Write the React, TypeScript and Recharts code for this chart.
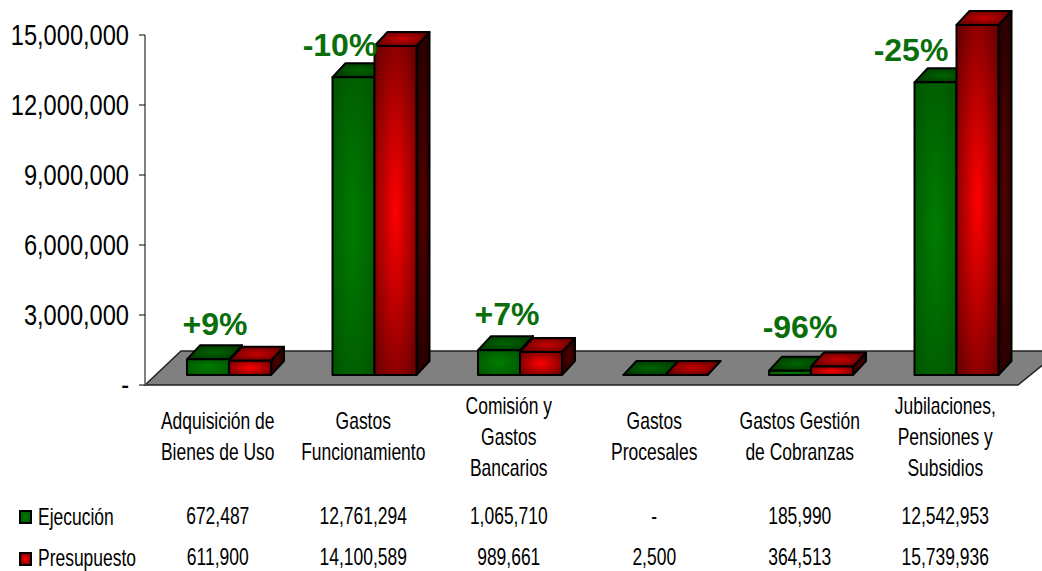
import { Bar, BarChart, Customized, LabelList, XAxis, YAxis } from "recharts";

const categoryLines = [
  ["Adquisición de", "Bienes de Uso"],
  ["Gastos", "Funcionamiento"],
  ["Comisión y", "Gastos", "Bancarios"],
  ["Gastos", "Procesales"],
  ["Gastos Gestión", "de Cobranzas"],
  ["Jubilaciones,", "Pensiones y", "Subsidios"],
];
const ejecucion = [672487, 12761294, 1065710, 0, 185990, 12542953];
const presupuesto = [611900, 14100589, 989661, 2500, 364513, 15739936];
const percentLabels = ["+9%", "-10%", "+7%", "", "-96%", "-25%"];
const yTicks = [0, 3000000, 6000000, 9000000, 12000000, 15000000];

// axis tops out at 15M, the last red bar gets cut there
const AXIS_MAX = 15000000;

const data = categoryLines.map((lines, i) => ({
  name: lines.join(" "),
  ejecucion: ejecucion[i],
  presupuesto: presupuesto[i],
}));

const PLOT_LEFT = 145;
const PLOT_TOP = 35;
const PLOT_BOTTOM = 385;
const FLOOR_BACK = 351;
const SHIFT_X = 11;
const SHIFT_Y = 10;
const DEPTH_X = 13;
const DEPTH_Y = 14;
const ROW_Y = [524, 565];
const NOTE_POS = [
  [215, 335],
  [340, 56],
  [507, 325],
  [0, 0],
  [800, 338],
  [911, 61],
];

const TABLE_SIZE = 23;
const TABLE_SX = 0.76;

const fmt = (v: number) => (v === 0 ? "-" : v.toLocaleString("en-US"));

function NarrowText({ x, y, size, sx, anchor = "middle", children }: any) {
  return (
    <text
      transform={`translate(${x},${y}) scale(${sx},1)`}
      textAnchor={anchor}
      fontFamily="Liberation Sans, Arial, sans-serif"
      fontSize={size}
      fill="#000"
    >
      {children}
    </text>
  );
}

function YTick({ y, payload }: any) {
  return (
    <NarrowText x={129} y={y + 10} size={29} sx={0.815} anchor="end">
      {fmt(payload.value)}
    </NarrowText>
  );
}

function TableTick({ x, index }: any) {
  const lines = categoryLines[index];
  const startY = lines.length === 3 ? 414 : 429;
  return (
    <g>
      {lines.map((line, i) => (
        <NarrowText key={line} x={x} y={startY + i * 31} size={TABLE_SIZE} sx={TABLE_SX}>
          {line}
        </NarrowText>
      ))}
      <NarrowText x={x} y={ROW_Y[0]} size={TABLE_SIZE} sx={TABLE_SX}>
        {fmt(ejecucion[index])}
      </NarrowText>
      <NarrowText x={x} y={ROW_Y[1]} size={TABLE_SIZE} sx={TABLE_SX}>
        {fmt(presupuesto[index])}
      </NarrowText>
    </g>
  );
}

function Floor() {
  const pts = [
    [PLOT_LEFT, PLOT_BOTTOM],
    [PLOT_LEFT + 36, FLOOR_BACK],
    [1060, FLOOR_BACK],
    [1018, PLOT_BOTTOM],
  ];
  return (
    <g>
      <polygon points={pts.map((p) => p.join(",")).join(" ")} fill="#808080" stroke="#222" strokeWidth={1.5} />
      <line x1={PLOT_LEFT} y1={PLOT_TOP} x2={PLOT_LEFT} y2={PLOT_BOTTOM} stroke="#808080" strokeWidth={2} />
      {yTicks.map((t) => {
        const ty = PLOT_BOTTOM - (t / AXIS_MAX) * (PLOT_BOTTOM - PLOT_TOP);
        return <line key={t} x1={PLOT_LEFT - 6} y1={ty} x2={PLOT_LEFT} y2={ty} stroke="#000" strokeWidth={1} />;
      })}
      <rect x={20} y={511} width={11} height={12} fill="url(#greenFront)" stroke="#000" strokeWidth={2} />
      <rect x={20} y={553} width={11} height={12} fill="url(#redFront)" stroke="#000" strokeWidth={2} />
      <NarrowText x={38} y={ROW_Y[0] + 1} size={TABLE_SIZE} sx={TABLE_SX} anchor="start">
        Ejecución
      </NarrowText>
      <NarrowText x={38} y={ROW_Y[1] + 1} size={TABLE_SIZE} sx={TABLE_SX} anchor="start">
        Presupuesto
      </NarrowText>
    </g>
  );
}

const makeBox = (color: string) => (props: any) => {
  const { x, y, width, height } = props;
  const x0 = x + SHIFT_X;
  const x1 = x0 + width;
  const yt = y - SHIFT_Y;
  const yb = y + height - SHIFT_Y;
  const poly = (pts: number[][], fill: string) => (
    <polygon
      points={pts.map((p) => p.join(",")).join(" ")}
      fill={fill}
      stroke="#000"
      strokeWidth={2}
      strokeLinejoin="round"
    />
  );
  return (
    <g>
      {poly(
        [
          [x1, yt],
          [x1 + DEPTH_X, yt - DEPTH_Y],
          [x1 + DEPTH_X, yb - DEPTH_Y],
          [x1, yb],
        ],
        `url(#${color}Side)`
      )}
      {poly(
        [
          [x0, yt],
          [x0 + DEPTH_X, yt - DEPTH_Y],
          [x1 + DEPTH_X, yt - DEPTH_Y],
          [x1, yt],
        ],
        `url(#${color}Top)`
      )}
      {poly(
        [
          [x0, yt],
          [x1, yt],
          [x1, yb],
          [x0, yb],
        ],
        `url(#${color}Front)`
      )}
    </g>
  );
};

function PercentNote({ index }: any) {
  const text = percentLabels[index];
  if (!text) return null;
  const [nx, ny] = NOTE_POS[index];
  return (
    <text
      x={nx}
      y={ny}
      textAnchor="middle"
      fontFamily="Liberation Sans, Arial, sans-serif"
      fontWeight="bold"
      fontSize={32}
      fill="#0a6e0a"
    >
      {text}
    </text>
  );
}

function Glow({ id, center, edge }: { id: string; center: string; edge: string }) {
  return (
    <radialGradient id={id} cx="50%" cy="50%" r="62%">
      <stop offset="0%" stopColor={center} />
      <stop offset="100%" stopColor={edge} />
    </radialGradient>
  );
}

export default function App() {
  return (
    <div style={{ position: "absolute", left: 0, top: 0, width: 1042, height: 571, overflow: "hidden", background: "#fff" }}>
      <BarChart
        width={1042}
        height={571}
        data={data}
        barSize={42}
        barGap={0}
        margin={{ top: PLOT_TOP, right: 24, bottom: 0, left: 0 }}
      >
        <defs>
          <Glow id="greenFront" center="#007c00" edge="#005800" />
          <Glow id="greenTop" center="#006400" edge="#003600" />
          <Glow id="greenSide" center="#005000" edge="#002000" />
          <Glow id="redFront" center="#ff0000" edge="#700000" />
          <Glow id="redTop" center="#c80000" edge="#5c0000" />
          <Glow id="redSide" center="#500000" edge="#220000" />
        </defs>
        <Customized component={Floor} />
        <XAxis dataKey="name" axisLine={false} tickLine={false} height={186} interval={0} tick={<TableTick />} />
        <YAxis
          width={PLOT_LEFT}
          domain={[0, AXIS_MAX]}
          ticks={yTicks}
          axisLine={false}
          tickLine={false}
          interval={0}
          tick={<YTick />}
        />
        <Bar dataKey="ejecucion" name="Ejecución" isAnimationActive={false} shape={makeBox("green")} />
        <Bar
          dataKey={(d: any) => Math.min(d.presupuesto, AXIS_MAX)}
          name="Presupuesto"
          isAnimationActive={false}
          shape={makeBox("red")}
        >
          <LabelList dataKey="presupuesto" content={<PercentNote />} />
        </Bar>
      </BarChart>
    </div>
  );
}
